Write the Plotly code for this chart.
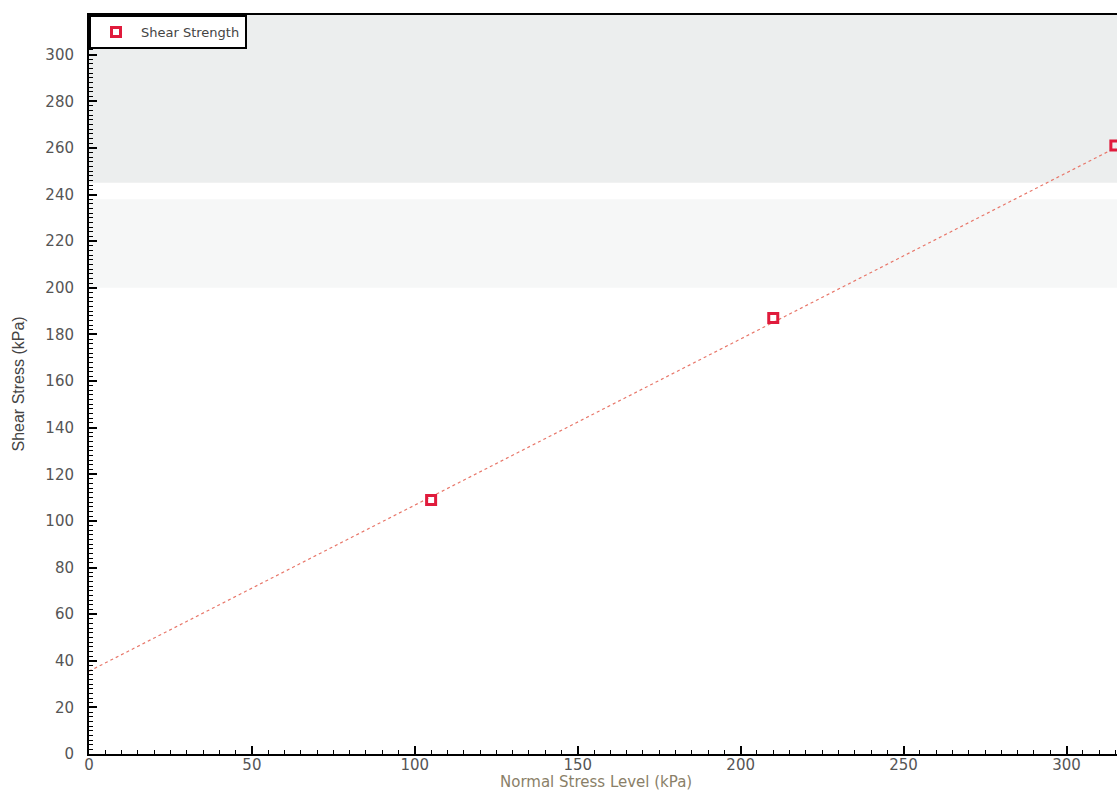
import plotly.graph_objects as go

# Data
normal_stress = [105, 210, 315]
shear_strength = [109, 187, 261]
fit_x = [0, 315]
fit_y = [35.5, 260]
x_ticks = [0, 50, 100, 150, 200, 250, 300]
y_ticks = [0, 20, 40, 60, 80, 100, 120, 140, 160, 180, 200, 220, 240, 260, 280, 300]

fig = go.Figure()

fig.add_trace(go.Scatter(
    x=fit_x, y=fit_y, mode="lines",
    line=dict(color="#e8776a", width=1.2, dash="dot"),
    showlegend=False, hoverinfo="skip",
))
fig.add_trace(go.Scatter(
    x=normal_stress, y=shear_strength, mode="markers",
    name="Shear Strength",
    marker=dict(symbol="square-open", size=9, color="#e01b3c",
                line=dict(width=3, color="#e01b3c")),
    cliponaxis=False,
))

# faint scan-like grey shading near the top of the plot
fig.add_shape(type="rect", xref="paper", yref="y", x0=0, x1=1, y0=245, y1=318,
              fillcolor="#eceeee", line_width=0, layer="below")
fig.add_shape(type="rect", xref="paper", yref="y", x0=0, x1=1, y0=200, y1=238,
              fillcolor="#f6f7f7", line_width=0, layer="below")

tick_font = dict(family="DejaVu Sans, sans-serif", size=15, color="#555555")

fig.update_layout(
    width=1117, height=793,
    margin=dict(l=89, r=0, t=15, b=39, autoexpand=False),
    paper_bgcolor="white", plot_bgcolor="white",
    font=dict(family="DejaVu Sans, sans-serif", color="#555555", size=14),
    showlegend=True,
    legend=dict(
        x=0.0, y=1.0, xanchor="left", yanchor="top",
        bgcolor="white", bordercolor="black", borderwidth=2,
        font=dict(family="DejaVu Sans, sans-serif", size=13, color="#444444"),
        itemwidth=40, entrywidth=190, entrywidthmode="pixels",
    ),
    xaxis=dict(
        range=[0, 315.5], tickvals=x_ticks, automargin=False,
        showgrid=False, zeroline=False,
        showline=True, linecolor="black", linewidth=2, mirror=True,
        ticks="inside", ticklen=8, tickwidth=1.5, tickcolor="black",
        minor=dict(dtick=5, ticks="inside", ticklen=4, tickcolor="black", tickwidth=1.2),
        tickfont=tick_font,
        ticklabelstandoff=-4,
    ),
    yaxis=dict(
        range=[0, 317], tickvals=y_ticks, automargin=False,
        showgrid=False, zeroline=False,
        showline=True, linecolor="black", linewidth=2, mirror=False,
        ticks="inside", ticklen=8, tickwidth=1.5, tickcolor="black",
        minor=dict(dtick=2, ticks="inside", ticklen=4, tickcolor="black", tickwidth=1.2),
        tickfont=tick_font,
        ticklabelstandoff=10,
    ),
    annotations=[
        dict(text="Normal Stress Level (kPa)", xref="paper", yref="paper",
             x=0.493, y=0, xanchor="center", yanchor="bottom", yshift=-38,
             showarrow=False, borderpad=0,
             font=dict(family="DejaVu Sans, sans-serif", size=15, color="#8a7f68")),
        dict(text="Shear Stress (kPa)", xref="paper", yref="paper",
             x=0, y=0.5, xanchor="center", yanchor="middle", xshift=-71,
             textangle=-90, showarrow=False,
             font=dict(family="Liberation Sans Narrow, Liberation Sans, sans-serif",
                       size=16, color="#444444")),
    ],
)

fig.write_html("out.html", config={"displayModeBar": False},
               post_script="document.body.style.margin='0';")
